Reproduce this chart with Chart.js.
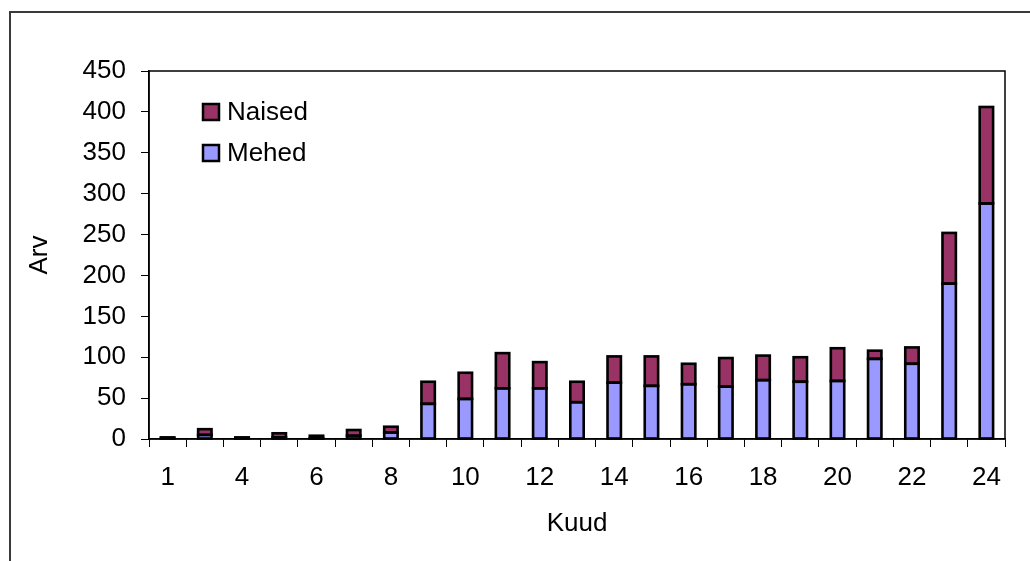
<!DOCTYPE html>
<html>
<head>
<meta charset="utf-8">
<script src="https://cdn.jsdelivr.net/npm/chart.js@4"></script>
<style>
html,body{margin:0;padding:0;background:#fff;}
#wrap{position:relative;width:1030px;height:561px;}
</style>
</head>
<body>
<div id="wrap"><canvas id="c" width="1030" height="561"></canvas></div>
<script>
const categories = ["1","2","4","5","6","7","8","9","10","11","12","13","14","15","16","17","18","19","20","21","22","23","24"];
const mehed  = [1,5,1,2,1,4,8,43,49,62,62,45,69,65,67,64,72,70,71,98,92,190,288];
const naised = [1,7,1,5,3,7,7,27,32,43,32,25,32,36,25,35,30,30,40,10,20,62,118];
const yTicks = [0,50,100,150,200,250,300,350,400,450];
const seriesNames = ["Mehed","Naised"];
const colors = {Mehed:"#9999FF", Naised:"#993366"};

const FONT = "'Liberation Sans', Arial, sans-serif";
const FS = 26;

const framePlugin = {
  id: 'frame',
  beforeDraw(chart) {
    const ctx = chart.ctx;
    ctx.save();
    ctx.fillStyle = '#fff';
    ctx.fillRect(0,0,chart.width,chart.height);
    ctx.strokeStyle = '#3a3a3a';
    ctx.lineWidth = 2;
    ctx.strokeRect(10, 12, 1100, 700);
    ctx.restore();
  },
  afterDatasetsDraw(chart) {
    const {ctx, chartArea: a} = chart;
    ctx.save();
    // outline each bar (Excel-style centered border)
    ctx.strokeStyle = '#000';
    ctx.lineWidth = 2.6;
    ctx.lineJoin = 'miter';
    chart.data.datasets.forEach((ds, di) => {
      const meta = chart.getDatasetMeta(di);
      meta.data.forEach(el => {
        const p = el.getProps(['x','y','base','width'], true);
        const l = p.x - p.width / 2, t = Math.min(p.y, p.base), h = Math.abs(p.base - p.y);
        ctx.strokeRect(l, t, p.width, h);
      });
    });
    ctx.strokeStyle = '#000';
    ctx.lineWidth = 1.5;
    ctx.strokeRect(a.left, a.top, a.right - a.left, a.bottom - a.top);
    ctx.restore();
  },
  afterDraw(chart) {
    const {ctx, chartArea: a} = chart;
    ctx.save();
    const items = [chart.data.datasets[1], chart.data.datasets[0]];
    ctx.font = FS + "px " + FONT;
    ctx.textBaseline = 'middle';
    items.forEach((ds, i) => {
      const y = a.top + 41 + i * 41;
      const x = a.left + 54;
      ctx.fillStyle = ds.backgroundColor;
      ctx.fillRect(x, y - 8, 16, 16);
      ctx.strokeStyle = '#000';
      ctx.lineWidth = 2.5;
      ctx.strokeRect(x, y - 8, 16, 16);
      ctx.fillStyle = '#000';
      ctx.fillText(ds.label, x + 24, y + 1);
    });
    ctx.restore();
  }
};

new Chart(document.getElementById('c'), {
  type: 'bar',
  data: {
    labels: categories,
    datasets: [
      {label: seriesNames[0], data: mehed, backgroundColor: colors.Mehed, borderWidth: 0, barPercentage: 0.36, categoryPercentage: 1.0},
      {label: seriesNames[1], data: naised, backgroundColor: colors.Naised, borderWidth: 0, barPercentage: 0.36, categoryPercentage: 1.0}
    ]
  },
  options: {
    responsive: false,
    animation: false,
    events: [],
    layout: {padding: {left: 0, top: 71, right: 25, bottom: 0}},
    plugins: {legend: {display: false}, tooltip: {enabled: false}},
    scales: {
      x: {
        stacked: true,
        offset: true,
        grid: {display: true, offset: true, drawOnChartArea: false, drawTicks: true, tickLength: 8, color: '#000', lineWidth: 1},
        border: {display: true, color: '#000', width: 1.5},
        ticks: {
          autoSkip: false, maxRotation: 0, color: '#000', padding: 15,
          font: {family: FONT, size: FS},
          callback: function(v, i) { return i % 2 === 0 ? categories[i] : ''; }
        },
        title: {display: true, text: 'Kuud', color: '#000', font: {family: FONT, size: FS}, padding: {top: 0, bottom: 22}},
        afterFit(s) { s.height = 122; }
      },
      y: {
        stacked: true,
        min: 0, max: 450,
        afterBuildTicks(s) { s.ticks = yTicks.map(v => ({value: v})); },
        grid: {display: true, drawOnChartArea: false, drawTicks: true, tickLength: 8, color: '#000', lineWidth: 1},
        border: {display: true, color: '#000', width: 1.5},
        ticks: {color: '#000', padding: 15, font: {family: FONT, size: FS}},
        title: {display: true, text: 'Arv', color: '#000', font: {family: FONT, size: FS}, padding: {top: 24, bottom: 0}},
        afterFit(s) { s.width = 149; }
      }
    }
  },
  plugins: [framePlugin]
});
</script>
</body>
</html>
